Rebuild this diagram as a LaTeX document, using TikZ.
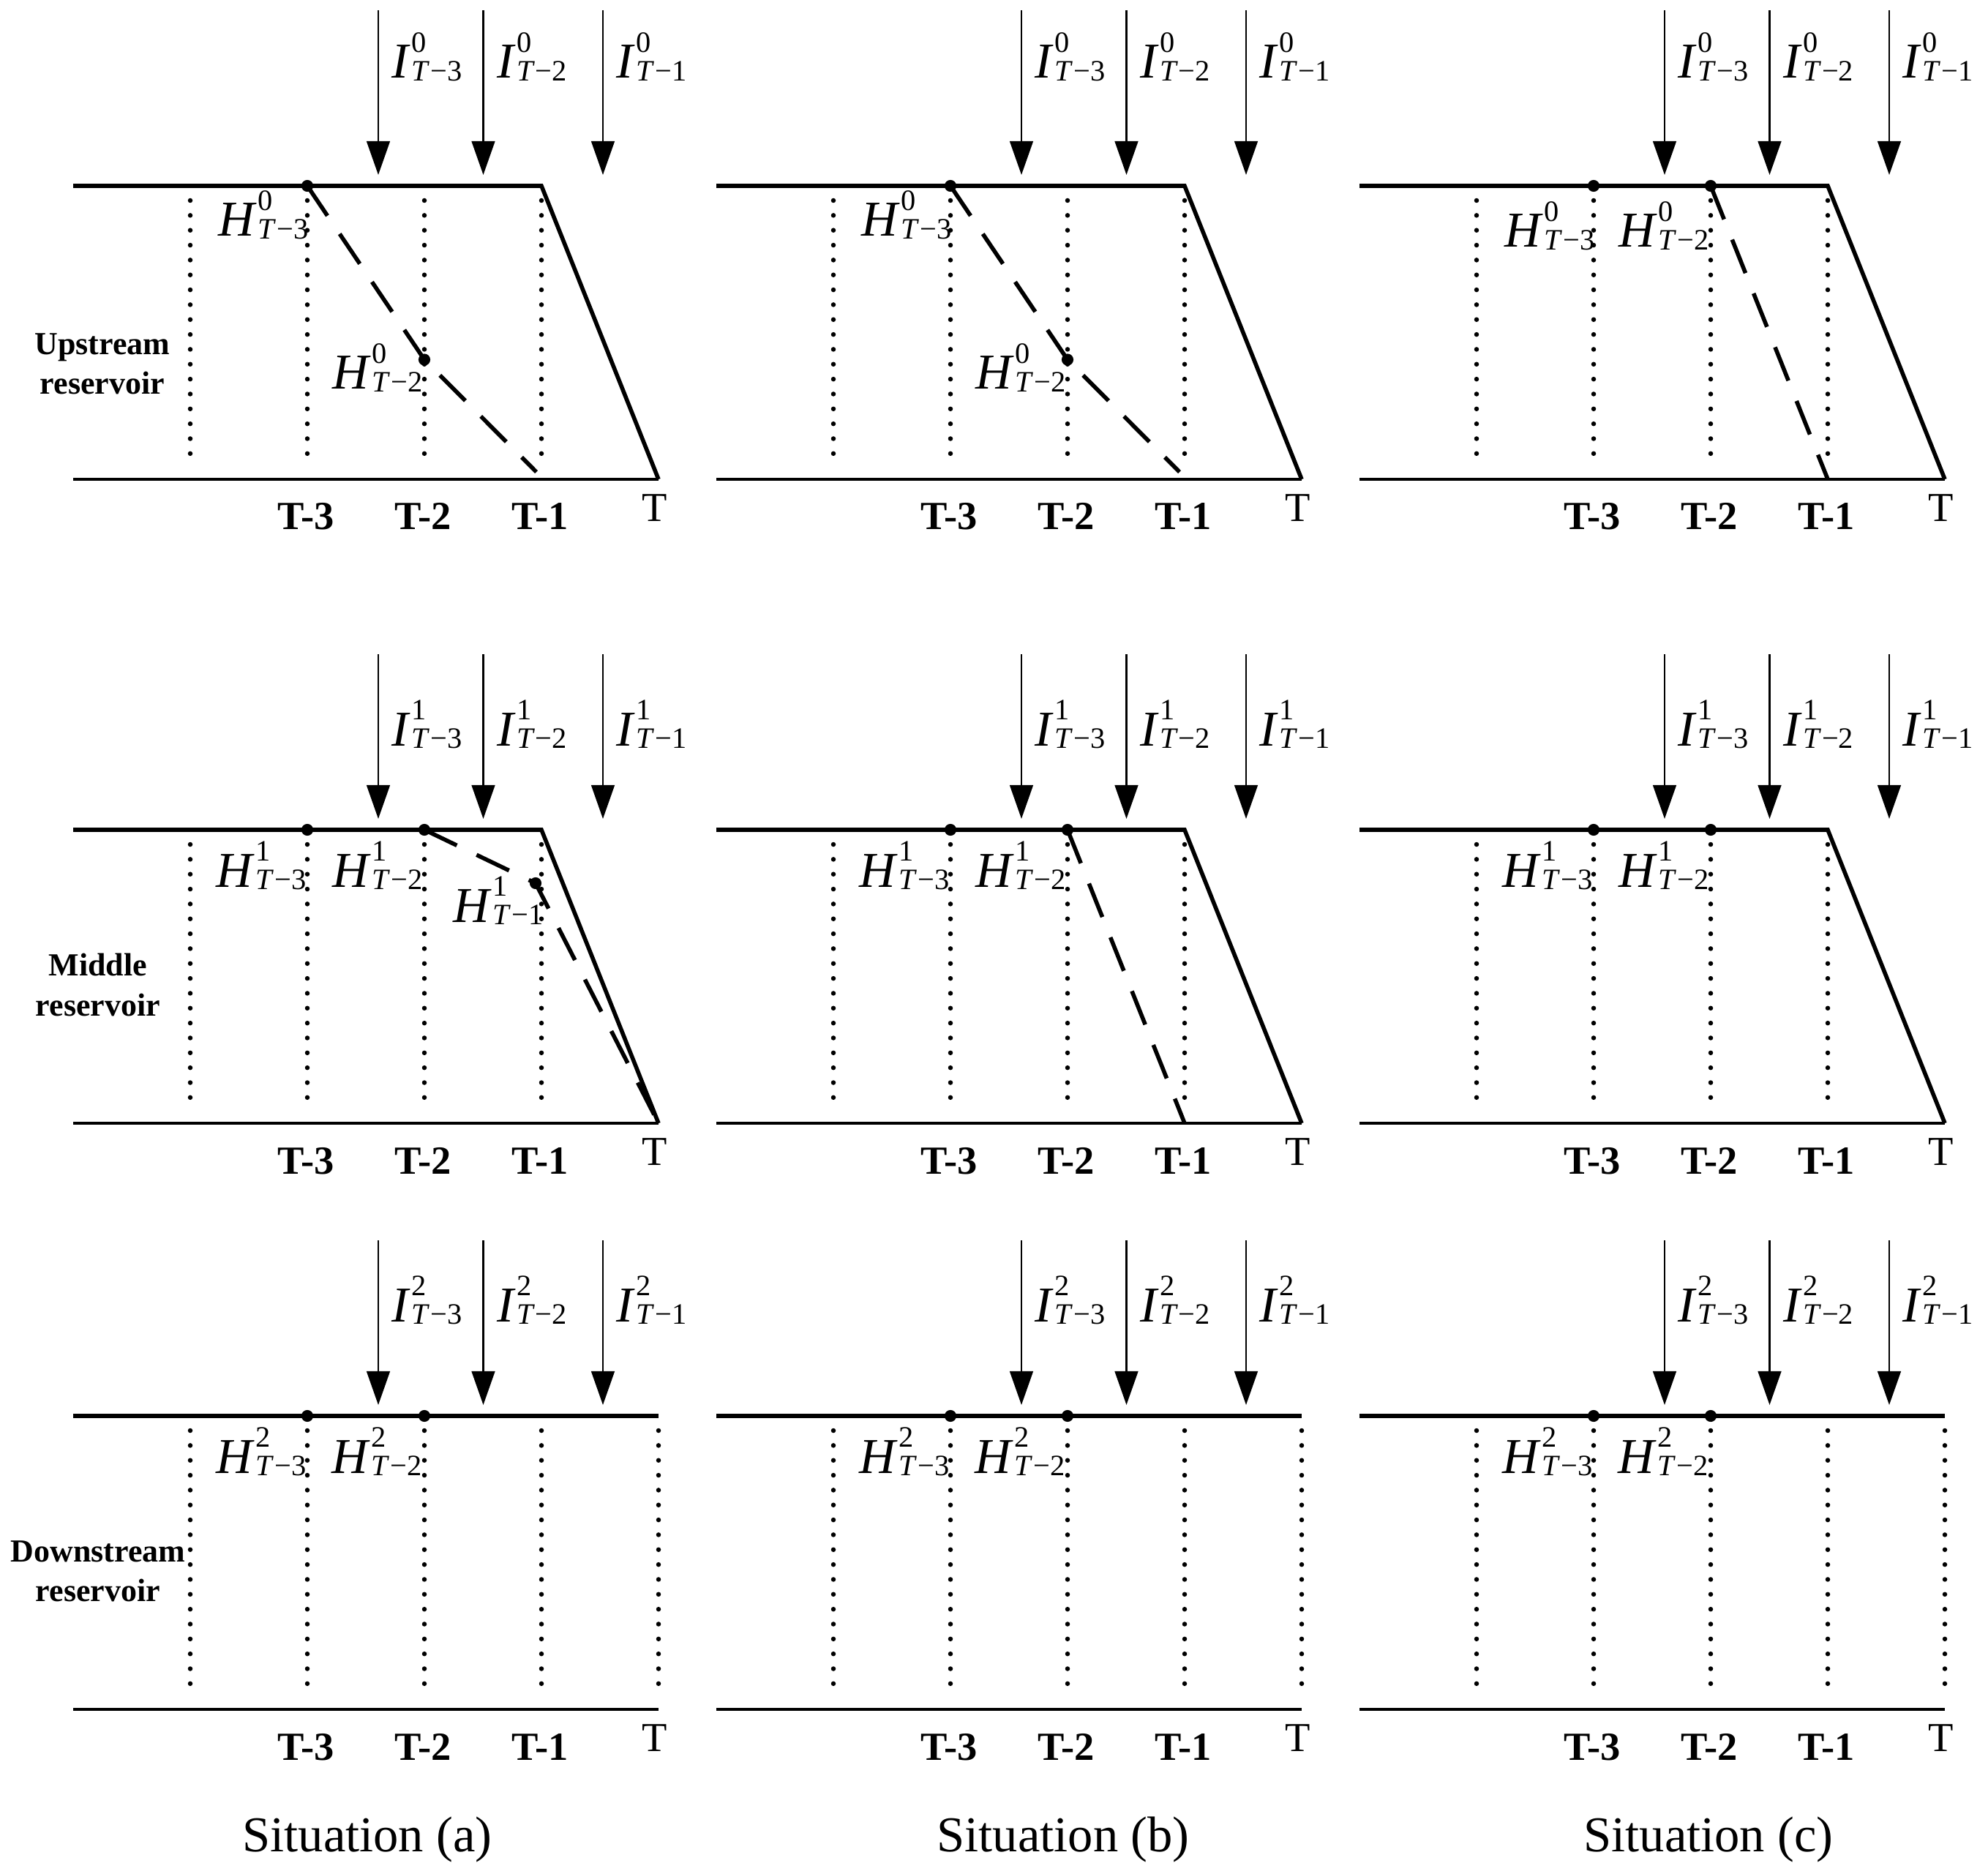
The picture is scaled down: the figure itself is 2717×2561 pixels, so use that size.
\documentclass[tikz,border=0pt]{standalone}
\usepackage{fontspec}
\setmainfont{Liberation Serif}
\usetikzlibrary{arrows.meta}
\newcommand{\symlab}[3]{{\fontsize{19.5}{22}\selectfont\itshape #1}\kern1.2pt\makebox[0pt][l]{\raisebox{10pt}{\fontsize{11.5}{12}\selectfont #2}}\raisebox{-1pt}{\fontsize{11.5}{12}\selectfont\itshape T\kern.08em\upshape −#3}}
\begin{document}
\begin{tikzpicture}[x=0.01cm,y=-0.01cm,
  topline/.style={line width=1.6pt},
  baseline/.style={line width=1pt},
  dotline/.style={line width=1.85pt,line cap=round,dash pattern=on 0pt off 5.785pt},
  dashline/.style={line width=1.6pt,dash pattern=on 14pt off 8.5pt},
  inflow/.style={line width=0.77pt,-{Triangle[length=13.1pt,width=9pt]}},
  dot/.style={circle,fill,inner sep=0pt,minimum size=4.6pt},
  tlab/.style={font=\fontsize{15.5}{18}\selectfont\bfseries,anchor=base,inner sep=0pt},
  Tlab/.style={font=\fontsize{16}{18}\selectfont,anchor=base,inner sep=0pt},
  ilab/.style={anchor=base west,inner sep=0pt},
  hlab/.style={anchor=base east,inner sep=0pt},
  rlab/.style={font=\fontsize{12.5}{15.4}\selectfont\bfseries,align=center,inner sep=0pt},
  sitlab/.style={font=\fontsize{19.5}{22}\selectfont,anchor=base,inner sep=0pt}]
\fill[white] (0,0) rectangle (2717,2561);
\useasboundingbox (0,0) rectangle (2717,2561);

% ---------- common elements of every panel ----------
\foreach \p/\X in {a/100,b/979,c/1858}{
  \foreach \r/\Y/\s/\Io in {1/254/0/-147, 2/1134/1/-115, 3/1935/2/-129}{
    \coordinate (\p\r L) at (\X,\Y);
    \coordinate (\p\r B) at (\X,\Y+401);
    \coordinate (\p\r E) at (\X+800,\Y+401);
    \draw[baseline] (\p\r B) -- (\p\r E);
    \foreach \k in {1,2,3,4}{
      \coordinate (\p\r d\k t) at (\X+160*\k,\Y+20);
      \coordinate (\p\r d\k b) at (\X+160*\k,\Y+386);
      \draw[dotline] (\p\r d\k t) -- (\p\r d\k b);
    }
    \foreach \k/\ax in {3/417,2/560.5,1/724}{
      \coordinate (\p\r a\k s) at (\X+\ax,\Y-240);
      \coordinate (\p\r a\k e) at (\X+\ax,\Y-15);
      \draw[inflow] (\p\r a\k s) -- (\p\r a\k e);
      \node[ilab] (\p\r I\k) at (\X+\ax+18,\Y+\Io) {\symlab{I}{\s}{\k}};
    }
    \node[tlab] (\p\r t3) at (\X+318,\Y+470) {T-3};
    \node[tlab] (\p\r t2) at (\X+478,\Y+470) {T-2};
    \node[tlab] (\p\r t1) at (\X+638,\Y+470) {T-1};
    \node[Tlab] (\p\r t0) at (\X+795,\Y+458) {T};
  }
  % rows 1 and 2: level falls to the bottom at T
  \foreach \r/\Y in {1/254,2/1134}{
    \coordinate (\p\r K) at (\X+640,\Y);
    \draw[topline] (\p\r L) -- (\p\r K) -- (\p\r E);
  }
  % row 3: level stays at the top
  \coordinate (\p3R) at (\X+800,1935);
  \draw[topline] (\p3L) -- (\p3R);
  \coordinate (\p3d5t) at (\X+800,1955);
  \coordinate (\p3d5b) at (\X+800,2321);
  \draw[dotline] (\p3d5t) -- (\p3d5b);
}

% ---------- reservoir names ----------
\node[rlab] (up)   at (140,497)  {Upstream\\reservoir};
\node[rlab] (mid)  at (134,1346) {Middle\\reservoir};
\node[rlab] (down) at (134,2147) {Downstream\\reservoir};

% ---------- situation names ----------
\node[sitlab] (sa) at (502,2530)  {Situation (a)};
\node[sitlab] (sb) at (1453,2530) {Situation (b)};
\node[sitlab] (sc) at (2335,2530) {Situation (c)};

% ---------- row 1, situations (a) and (b) ----------
\foreach \p/\X in {a/100,b/979}{
  \coordinate (\p1h3) at (\X+320,254);
  \coordinate (\p1h2) at (\X+480,491.5);
  \coordinate (\p1h1) at (\X+633,645);
  \draw[dashline] (\p1h3) -- (\p1h2) -- (\p1h1);
  \node[dot] (\p1D3) at (\p1h3) {};
  \node[dot] (\p1D2) at (\p1h2) {};
  \node[hlab] (\p1H3) at (\X+322,323) {\symlab{H}{0}{3}};
  \node[hlab] (\p1H2) at (\X+478,531.5) {\symlab{H}{0}{2}};
}
% ---------- row 1, situation (c) ----------
\coordinate (c1h3) at (2178,254);
\coordinate (c1h2) at (2338,254);
\coordinate (c1h1) at (2498,655);
\draw[dashline] (c1h2) -- (c1h1);
\node[dot] (c1D3) at (c1h3) {};
\node[dot] (c1D2) at (c1h2) {};
\node[hlab] (c1H3) at (2180,338) {\symlab{H}{0}{3}};
\node[hlab] (c1H2) at (2336,338) {\symlab{H}{0}{2}};

% ---------- row 2, situation (a) ----------
\coordinate (a2h3) at (420,1134);
\coordinate (a2h2) at (580,1134);
\coordinate (a2h1) at (732,1207);
\draw[dashline] (a2h2) -- (a2h1) -- (a2E);
\node[dot] (a2D3) at (a2h3) {};
\node[dot] (a2D2) at (a2h2) {};
\node[dot] (a2D1) at (a2h1) {};
\node[hlab] (a2H3) at (419,1212) {\symlab{H}{1}{3}};
\node[hlab] (a2H2) at (578,1212) {\symlab{H}{1}{2}};
\node[hlab] (a2H1) at (743,1260) {\symlab{H}{1}{1}};
% ---------- row 2, situation (b) ----------
\coordinate (b2h3) at (1299,1134);
\coordinate (b2h2) at (1459,1134);
\coordinate (b2h1) at (1619,1535);
\draw[dashline] (b2h2) -- (b2h1);
\node[dot] (b2D3) at (b2h3) {};
\node[dot] (b2D2) at (b2h2) {};
\node[hlab] (b2H3) at (1298,1212) {\symlab{H}{1}{3}};
\node[hlab] (b2H2) at (1457,1212) {\symlab{H}{1}{2}};
% ---------- row 2, situation (c) ----------
\coordinate (c2h3) at (2178,1134);
\coordinate (c2h2) at (2338,1134);
\node[dot] (c2D3) at (c2h3) {};
\node[dot] (c2D2) at (c2h2) {};
\node[hlab] (c2H3) at (2177,1212) {\symlab{H}{1}{3}};
\node[hlab] (c2H2) at (2336,1212) {\symlab{H}{1}{2}};

% ---------- row 3, all situations ----------
\foreach \p/\X in {a/100,b/979,c/1858}{
  \coordinate (\p3h3) at (\X+320,1935);
  \coordinate (\p3h2) at (\X+480,1935);
  \node[dot] (\p3D3) at (\p3h3) {};
  \node[dot] (\p3D2) at (\p3h2) {};
  \node[hlab] (\p3H3) at (\X+319,2013) {\symlab{H}{2}{3}};
  \node[hlab] (\p3H2) at (\X+477,2013) {\symlab{H}{2}{2}};
}
\end{tikzpicture}
\end{document}
